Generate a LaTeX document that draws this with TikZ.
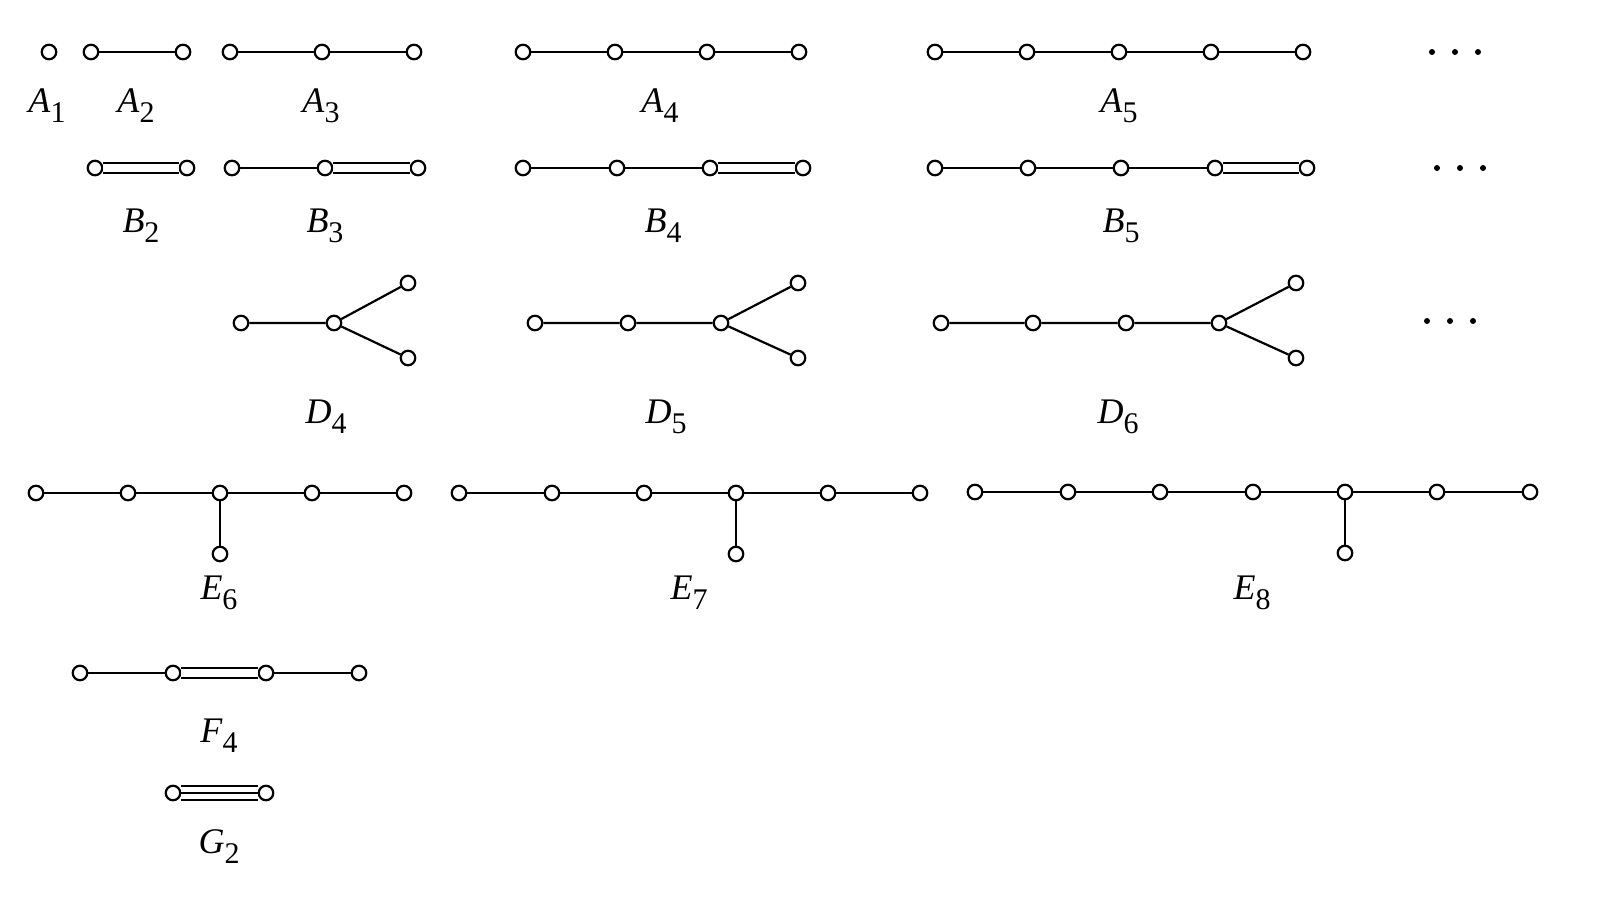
\documentclass[tikz,border=0pt]{standalone}
\usepackage{fontspec}
\setmainfont{Liberation Serif}
\newcommand{\dlab}[2]{\textit{#1}\raisebox{-10pt}{\fontsize{30}{30}\selectfont #2}}
\begin{document}
\begin{tikzpicture}[x=1pt,y=-1pt,
  vtx/.style={circle,draw,fill=white,minimum size=14.5pt,inner sep=0pt,line width=2.2pt},
  edge/.style={line width=2.2pt},
  dbl/.style={line width=2.2pt,double,double distance=7.8pt},
  lab/.style={anchor=base,inner sep=0pt,font=\fontsize{36}{36}\selectfont},
  dot/.style={circle,fill=black,minimum size=6pt,inner sep=0pt}]
\useasboundingbox (0,0) rectangle (1610,916);
% A row
\node[vtx] (a1) at (49,52) {};
\node[lab] (la1) at (47,112) {\dlab{A}{1}};
\node[vtx] (a21) at (91,52) {};
\node[vtx] (a22) at (183,52) {};
\draw[edge] (a21) -- (a22);
\node[lab] (la2) at (136,112) {\dlab{A}{2}};
\foreach \i/\x in {1/230,2/322,3/414} \node[vtx] (a3\i) at (\x,52) {};
\draw[edge] (a31) -- (a32) -- (a33);
\node[lab] (la3) at (321,112) {\dlab{A}{3}};
\foreach \i/\x in {1/523,2/615,3/707,4/799} \node[vtx] (a4\i) at (\x,52) {};
\draw[edge] (a41) -- (a42) -- (a43) -- (a44);
\node[lab] (la4) at (660,112) {\dlab{A}{4}};
\foreach \i/\x in {1/935,2/1027,3/1119,4/1211,5/1303} \node[vtx] (a5\i) at (\x,52) {};
\draw[edge] (a51) -- (a52) -- (a53) -- (a54) -- (a55);
\node[lab] (la5) at (1119,112) {\dlab{A}{5}};
\foreach \i/\x in {1/1432,2/1455,3/1478} \node[dot] (da\i) at (\x,52) {};
% B row
\node[vtx] (b21) at (95,168) {};
\node[vtx] (b22) at (187,168) {};
\draw[dbl] (b21) -- (b22);
\node[lab] (lb2) at (141,232) {\dlab{B}{2}};
\foreach \i/\x in {1/232,2/325,3/418} \node[vtx] (b3\i) at (\x,168) {};
\draw[edge] (b31) -- (b32);
\draw[dbl] (b32) -- (b33);
\node[lab] (lb3) at (325,232) {\dlab{B}{3}};
\foreach \i/\x in {1/523,2/617,3/710,4/803} \node[vtx] (b4\i) at (\x,168) {};
\draw[edge] (b41) -- (b42) -- (b43);
\draw[dbl] (b43) -- (b44);
\node[lab] (lb4) at (663,232) {\dlab{B}{4}};
\foreach \i/\x in {1/935,2/1028,3/1121,4/1215,5/1307} \node[vtx] (b5\i) at (\x,168) {};
\draw[edge] (b51) -- (b52) -- (b53) -- (b54);
\draw[dbl] (b54) -- (b55);
\node[lab] (lb5) at (1121,232) {\dlab{B}{5}};
\foreach \i/\x in {1/1437,2/1460,3/1483} \node[dot] (db\i) at (\x,168) {};
% D row
\node[vtx] (d41) at (241,323) {};
\node[vtx] (d42) at (334,323) {};
\node[vtx] (d43) at (408,283) {};
\node[vtx] (d44) at (408,358) {};
\draw[edge] (d41) -- (d42) -- (d43);
\draw[edge] (d42) -- (d44);
\node[lab] (ld4) at (326,423) {\dlab{D}{4}};
\foreach \i/\x in {1/535,2/628,3/721} \node[vtx] (d5\i) at (\x,323) {};
\node[vtx] (d54) at (798,283) {};
\node[vtx] (d55) at (798,358) {};
\draw[edge] (d51) -- (d52) -- (d53) -- (d54);
\draw[edge] (d53) -- (d55);
\node[lab] (ld5) at (666,423) {\dlab{D}{5}};
\foreach \i/\x in {1/941,2/1033,3/1126,4/1219} \node[vtx] (d6\i) at (\x,323) {};
\node[vtx] (d65) at (1296,283) {};
\node[vtx] (d66) at (1296,358) {};
\draw[edge] (d61) -- (d62) -- (d63) -- (d64) -- (d65);
\draw[edge] (d64) -- (d66);
\node[lab] (ld6) at (1118,423) {\dlab{D}{6}};
\foreach \i/\x in {1/1427,2/1450,3/1473} \node[dot] (dd\i) at (\x,321) {};
% E row
\foreach \i/\x in {1/36,2/128,3/220,4/312,5/404} \node[vtx] (e6\i) at (\x,493) {};
\node[vtx] (e66) at (220,554) {};
\draw[edge] (e61) -- (e62) -- (e63) -- (e64) -- (e65);
\draw[edge] (e63) -- (e66);
\node[lab] (le6) at (219,599) {\dlab{E}{6}};
\foreach \i/\x in {1/459,2/552,3/644,4/736,5/828,6/920} \node[vtx] (e7\i) at (\x,493) {};
\node[vtx] (e77) at (736,554) {};
\draw[edge] (e71) -- (e72) -- (e73) -- (e74) -- (e75) -- (e76);
\draw[edge] (e74) -- (e77);
\node[lab] (le7) at (689,599) {\dlab{E}{7}};
\foreach \i/\x in {1/975,2/1068,3/1160,4/1253,5/1345,6/1437,7/1530} \node[vtx] (e8\i) at (\x,492) {};
\node[vtx] (e88) at (1345,553) {};
\draw[edge] (e81) -- (e82) -- (e83) -- (e84) -- (e85) -- (e86) -- (e87);
\draw[edge] (e85) -- (e88);
\node[lab] (le8) at (1252,599) {\dlab{E}{8}};
% F4
\foreach \i/\x in {1/80,2/173,3/266,4/359} \node[vtx] (f\i) at (\x,673) {};
\draw[edge] (f1) -- (f2);
\draw[dbl] (f2) -- (f3);
\draw[edge] (f3) -- (f4);
\node[lab] (lf4) at (219,742) {\dlab{F}{4}};
% G2
\node[vtx] (g1) at (173,793) {};
\node[vtx] (g2) at (266,793) {};
\draw[dbl,double distance=11.5pt] (g1) -- (g2);
\draw[edge] (g1) -- (g2);
\node[lab] (lg2) at (219,853) {\dlab{G}{2}};
\end{tikzpicture}
\end{document}
